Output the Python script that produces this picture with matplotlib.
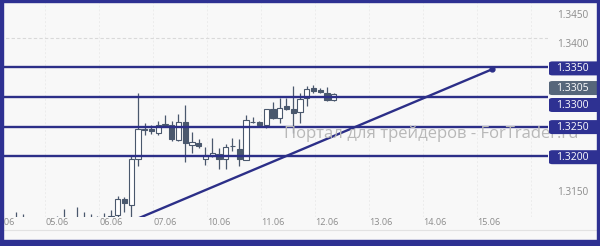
import matplotlib
matplotlib.use("Agg")
import matplotlib.pyplot as plt
from matplotlib.patches import Rectangle, FancyBboxPatch
from matplotlib.transforms import blended_transform_factory, offset_copy
from matplotlib.lines import Line2D

plt.rcParams['font.family'] = ['Open Sans', 'DejaVu Sans']

# H3 bars, index 0 = first bar of 06.06
bar_idx = list(range(-16, 34))
opens = [1.3080, 1.3084, 1.3080, 1.3088, 1.3083, 1.3078, 1.3086, 1.3081,
         1.3077, 1.3085, 1.3092, 1.3083, 1.3090, 1.3087, 1.3092, 1.3089,
         1.3096, 1.3100, 1.3128, 1.3118, 1.3195, 1.3246, 1.3246, 1.3240,
         1.3253, 1.3252, 1.3227, 1.3257, 1.3219, 1.3222, 1.3196, 1.3201,
         1.3203, 1.3195, 1.3218, 1.3213, 1.3194, 1.3258, 1.3258, 1.3252,
         1.3279, 1.3264, 1.3284, 1.3279, 1.3274, 1.3299, 1.3315, 1.3312,
         1.3306, 1.3295]
highs = [1.3088, 1.3091, 1.3106, 1.3103, 1.3094, 1.3090, 1.3093, 1.3095,
         1.3099, 1.3111, 1.3095, 1.3114, 1.3106, 1.3103, 1.3099, 1.3104,
         1.3109, 1.3133, 1.3131, 1.3202, 1.3306, 1.3256, 1.3252, 1.3260,
         1.3270, 1.3260, 1.3271, 1.3286, 1.3241, 1.3229, 1.3216, 1.3230,
         1.3214, 1.3221, 1.3231, 1.3229, 1.3270, 1.3267, 1.3260, 1.3279,
         1.3292, 1.3298, 1.3298, 1.3319, 1.3306, 1.3319, 1.3320, 1.3316,
         1.3317, 1.3306]
lows = [1.3070, 1.3076, 1.3074, 1.3079, 1.3072, 1.3068, 1.3075, 1.3070,
        1.3071, 1.3080, 1.3078, 1.3079, 1.3082, 1.3080, 1.3084, 1.3083,
        1.3090, 1.3094, 1.3106, 1.3096, 1.3183, 1.3236, 1.3237, 1.3235,
        1.3250, 1.3226, 1.3225, 1.3191, 1.3205, 1.3214, 1.3185, 1.3199,
        1.3178, 1.3178, 1.3208, 1.3184, 1.3194, 1.3256, 1.3250, 1.3247,
        1.3262, 1.3256, 1.3278, 1.3239, 1.3256, 1.3284, 1.3306, 1.3306,
        1.3293, 1.3293]
closes = [1.3084, 1.3080, 1.3088, 1.3083, 1.3078, 1.3086, 1.3081, 1.3077,
          1.3085, 1.3092, 1.3083, 1.3090, 1.3087, 1.3092, 1.3089, 1.3096,
          1.3099, 1.3128, 1.3121, 1.3195, 1.3246, 1.3245, 1.3243, 1.3252,
          1.3254, 1.3229, 1.3257, 1.3222, 1.3224, 1.3218, 1.3200, 1.3205,
          1.3195, 1.3216, 1.3217, 1.3195, 1.3261, 1.3258, 1.3253, 1.3279,
          1.3264, 1.3281, 1.3280, 1.3273, 1.3296, 1.3313, 1.3310, 1.3308,
          1.3295, 1.3305]

day_pos = [-16, -8, 0, 8, 16, 24, 32, 40, 48, 56]
day_labels = ['04.06', '05.06', '06.06', '07.06', '10.06', '11.06', '12.06',
              '13.06', '14.06', '15.06']

levels = [1.3350, 1.3300, 1.3250, 1.3200]
axis_prices = [1.3150, 1.3400, 1.3450]   # the others sit under the boxes
trend_x = [3, 56.5]
trend_y = [1.3090, 1.3347]
last_price = 1.3305

navy = '#2c2f88'
box_navy = '#2e3192'
candle_c = '#4a586d'
bg = '#f8f8f8'
grey_txt = '#8c8c8c'

W, H = 600, 246
fig = plt.figure(figsize=(W / 100, H / 100), dpi=100, facecolor=bg)
ax = fig.add_axes([0, (H - 217) / H, 548 / W, 217 / H])
ax.set_facecolor(bg)
ax.set_xlim(-16.44, 64.74)
ax.set_ylim(1.30973, 1.346385)
for s in ax.spines.values():
    s.set_visible(False)

# faint vertical grid at day boundaries, dashed 1.3400 line
for d in day_pos + [64]:
    ax.axvline(d - 1.75, color='#ececec', lw=0.7, ls=(0, (2, 2)), zorder=0)
ax.axhline(1.3400, color='#d9d9d9', lw=0.8, ls=(0, (3, 2)), zorder=0)

# watermark
fig.text(284 / W, (H - 138) / H, 'Портал для трейдеров - ForTrader.ru',
         fontsize=12, color='#b8b8b8', ha='left', va='baseline', zorder=1)

# candles
for i, o, h, l, c in zip(bar_idx, opens, highs, lows, closes):
    ax.vlines(i, l, h, color=candle_c, lw=0.9, zorder=2)
    bottom = min(o, c)
    height = max(abs(c - o), 0.00004)
    face = candle_c if c < o else '#ffffff'
    ax.bar(i, height, bottom=bottom, width=0.8, color=face,
           edgecolor=candle_c, linewidth=0.8, zorder=3)

for lv in levels:
    ax.axhline(lv, color=navy, lw=1.7, zorder=4)
ax.plot(trend_x, trend_y, color=navy, lw=1.7, zorder=4,
        solid_capstyle='butt')
ax.plot(trend_x[1], trend_y[1], 'o', color=navy, ms=3.5, zorder=5)

ax.set_yticks([])
ax.set_xticks(day_pos)
ax.set_xticklabels(day_labels)
ax.tick_params(axis='x', length=0, pad=0.5, labelsize=6.6, colors=grey_txt)

# right price scale labels (sit a little under their level)
tr = offset_copy(blended_transform_factory(ax.transAxes, ax.transData),
                 fig=fig, x=0, y=-7, units='dots')
for p in axis_prices:
    ax.text(557 / 548, p, f'{p:.4f}', transform=tr, fontsize=7.2,
            color=grey_txt, ha='left', va='center', clip_on=False)

# boxed price labels, shifted to avoid overlap
boxes = [(1.3350, 1, box_navy), (last_price, -6, '#56667a'),
         (1.3300, 8, box_navy), (1.3250, 0.5, box_navy),
         (1.3200, 1, box_navy)]
for p, shift, col in boxes:
    yc = ax.transData.transform((0, p))[1] - shift
    fig.add_artist(FancyBboxPatch((549 / W, (yc - 7) / H), 52 / W, 14 / H,
                                  boxstyle='round,pad=0,rounding_size=0.006',
                                  transform=fig.transFigure, facecolor=col,
                                  edgecolor='none', zorder=6))
    fig.text(572 / W, yc / H, f'{p:.4f}', fontsize=7.5, color='white',
             ha='center', va='center', zorder=7)

# bottom strip line
fig.add_artist(Line2D([0, 1], [(H - 230) / H] * 2, color='#e2e2e2', lw=0.8,
                      transform=fig.transFigure))

# frame
for x, y, w, h in [(0, 0, 3, H), (W - 3, 0, 3, H), (0, H - 2, W, 2),
                   (0, 0, W, 6)]:
    fig.add_artist(Rectangle((x / W, y / H), w / W, h / H, color='#2e3192',
                             transform=fig.transFigure, zorder=10))

fig.savefig('out.png', dpi=100, facecolor=bg)
